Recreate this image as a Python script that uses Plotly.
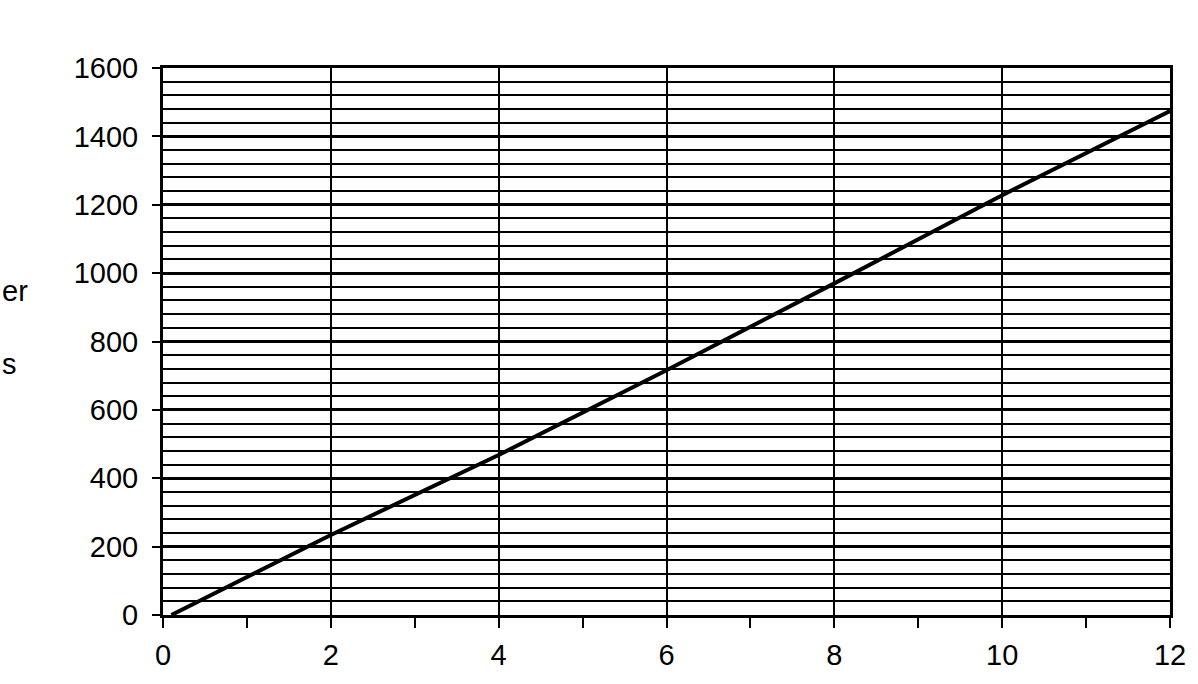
import plotly.graph_objects as go

# data
x_vals = [0.1, 2, 4, 6, 8, 10, 12]
y_vals = [0, 234, 468, 716, 970, 1228, 1474]
x_ticks = [0, 2, 4, 6, 8, 10, 12]
y_ticks = [0, 200, 400, 600, 800, 1000, 1200, 1400, 1600]
side_texts = ["er", "s"]

FONT = "Liberation Sans, Arial, sans-serif"

fig = go.Figure()
fig.add_trace(go.Scatter(x=x_vals, y=y_vals, mode="lines",
                         line=dict(color="black", width=4), showlegend=False))

fig.update_layout(
    width=1198, height=684,
    margin=dict(l=163, r=28, t=68, b=69),
    paper_bgcolor="white", plot_bgcolor="white",
    font=dict(family=FONT, size=29, color="black"),
)
fig.update_xaxes(
    range=[0, 12], tickvals=x_ticks, ticktext=[str(v) for v in x_ticks],
    showgrid=True, gridcolor="black", gridwidth=2,
    showline=True, linecolor="black", linewidth=3, mirror=True,
    ticks="", ticklabelstandoff=12, zeroline=False,
    minor=dict(dtick=1, tick0=0, ticks="outside", ticklen=10, tickwidth=2,
               tickcolor="black", showgrid=False),
)
fig.update_yaxes(
    range=[0, 1600], tickvals=y_ticks, ticktext=[str(v) for v in y_ticks],
    showgrid=True, gridcolor="black", gridwidth=2.5,
    showline=True, linecolor="black", linewidth=3, mirror=True,
    ticks="outside", ticklen=8, tickwidth=2, tickcolor="black",
    ticklabelstandoff=8, zeroline=False,
    minor=dict(dtick=40, tick0=0, showgrid=True, gridcolor="black", gridwidth=1.5),
)

fig.add_annotation(text=side_texts[0], xref="paper", yref="paper", x=-0.1619, y=0.592,
                   xanchor="left", yanchor="middle", showarrow=False,
                   font=dict(family=FONT, size=29, color="black"))
fig.add_annotation(text=side_texts[1], xref="paper", yref="paper", x=-0.1619, y=0.459,
                   xanchor="left", yanchor="middle", showarrow=False,
                   font=dict(family=FONT, size=29, color="black"))

fig.write_html("out.html", config={"displayModeBar": False},
               post_script="document.body.style.margin='0';")
